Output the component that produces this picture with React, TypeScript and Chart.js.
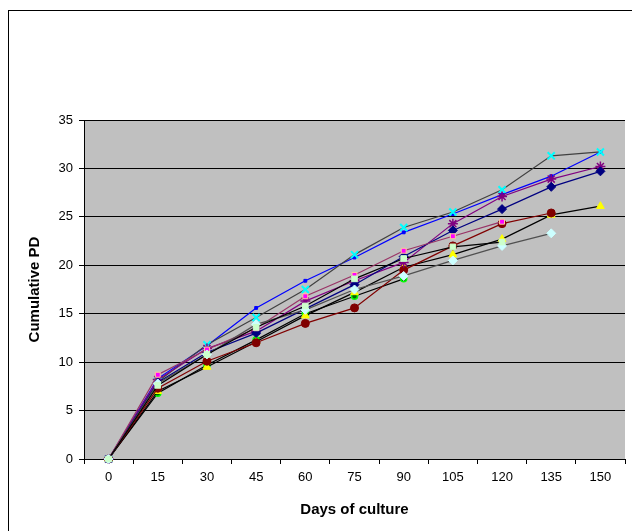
import React, { useEffect, useRef } from "react";
import { Chart, registerables } from "chart.js";

Chart.register(...registerables);

const days = ["0", "15", "30", "45", "60", "75", "90", "105", "120", "135", "150"];
const yTicksMax = 35;
const yStep = 5;

const navyDiamond = [0, 7.9, 11.0, 13.0, 15.5, 18.0, 20.9, 23.6, 25.8, 28.1, 29.7];
const magentaSquare = [0, 8.7, 11.3, 13.5, 16.8, 19.0, 21.5, 23.0, 24.5, null, null];
const yellowTriangle = [0, 7.0, 9.5, 12.1, 14.8, 17.2, 19.8, 21.1, 22.7, 25.2, 26.1];
const cyanCross = [0, 8.0, 11.8, 14.6, 17.5, 21.1, 23.9, 25.5, 27.8, 31.3, 31.7];
const purpleStar = [0, 8.2, 11.4, 13.2, 16.3, 18.4, 20.3, 24.3, 27.1, 28.9, 30.2];
const darkRedCircle = [0, 7.3, 10.1, 12.0, 14.0, 15.6, 19.5, 22.0, 24.3, 25.4, null];
const blueDash = [0, 8.3, 11.7, 15.6, 18.4, 20.8, 23.4, 25.3, 27.3, 29.2, 31.7];
const lightGreenSquare = [0, 7.6, 10.8, 13.6, 15.8, 18.6, 20.7, 21.9, 22.4, null, null];
const lightCyanDiamond = [0, 7.8, 10.8, 13.9, 15.4, 17.5, 18.9, 20.5, 22.0, 23.3, null];
const greenCircle = [0, 6.8, 9.7, 12.3, 15.0, 16.8, 18.6, null, null, null, null];

const xTitle = "Days of culture";
const yTitle = "Cumulative PD";

const framePlugin = {
  id: "framePlugin",
  beforeDraw(chart: any) {
    const { ctx, chartArea } = chart;
    ctx.save();
    ctx.fillStyle = "#ffffff";
    ctx.fillRect(0, 0, chart.width, chart.height);
    ctx.strokeStyle = "#000000";
    ctx.lineWidth = 1;
    ctx.strokeRect(8.5, 10.5, 1000, 1000);
    ctx.fillStyle = "#c0c0c0";
    ctx.fillRect(chartArea.left, chartArea.top, chartArea.right - chartArea.left, chartArea.bottom - chartArea.top);
    ctx.strokeStyle = "#808080";
    ctx.beginPath();
    ctx.moveTo(chartArea.left, chartArea.top + 0.5);
    ctx.lineTo(chartArea.right, chartArea.top + 0.5);
    ctx.stroke();
    ctx.restore();
  },
};

function ds(data: (number | null)[], line: string, style: any, fill: string, stroke: string, radius: number, bw: number) {
  return {
    data,
    borderColor: line,
    borderWidth: 1.2,
    pointStyle: style,
    pointBackgroundColor: fill,
    pointBorderColor: stroke,
    pointBorderWidth: bw,
    pointRadius: radius,
    tension: 0,
    fill: false,
    spanGaps: false,
    clip: false as any,
  };
}

export default function App() {
  const ref = useRef<HTMLCanvasElement | null>(null);
  useEffect(() => {
    document.body.style.margin = "0";
    if (!ref.current) return;
    const font = { family: "'Liberation Sans', Arial, sans-serif", size: 13 };
    const titleFont = { family: "'Liberation Sans', Arial, sans-serif", size: 15, weight: "bold" };
    const chart = new Chart(ref.current, {
      type: "line",
      data: {
        labels: days,
        datasets: [
          ds(lightGreenSquare, "#000000", "rect", "#ccffcc", "#ccffcc", 4, 1),
          ds(lightCyanDiamond, "#505050", "rectRot", "#ccffff", "#ccffff", 4.5, 1),
          ds(magentaSquare, "#993366", "rect", "#ff00ff", "#ffcc99", 3.5, 1),
          ds(navyDiamond, "#000080", "rectRot", "#000080", "#000080", 4.5, 1),
          ds(purpleStar, "#800080", "star", "#800080", "#800080", 5, 1.5),
          ds(cyanCross, "#404040", "crossRot", "#00ffff", "#00ffff", 5, 2),
          ds(blueDash, "#0000ff", "rect", "#0000ff", "#0000ff", 2, 1),
          ds(darkRedCircle, "#800000", "circle", "#800000", "#800000", 4, 1),
          ds(yellowTriangle, "#000000", "triangle", "#ffff00", "#ffff00", 4.5, 1),
          ds(greenCircle, "#000000", "circle", "#006600", "#00ff00", 3, 1.5),
        ],
      },
      options: {
        responsive: false,
        animation: false,
        events: [],
        layout: { padding: { top: 120, left: 0, right: 0, bottom: 0 } },
        plugins: { legend: { display: false }, tooltip: { enabled: false } },
        scales: {
          x: {
            type: "category",
            offset: true,
            grid: { drawOnChartArea: false, drawTicks: true, tickLength: 5, color: "#000000", offset: true },
            border: { display: true, color: "#000000", width: 1 },
            ticks: { color: "#000000", font, padding: 6, maxRotation: 0, autoSkip: false },
            title: {
              display: true,
              text: xTitle,
              color: "#000000",
              font: titleFont,
              padding: { top: 0, bottom: 12 },
            },
            afterFit(scale: any) {
              scale.height = 72;
            },
          },
          y: {
            min: 0,
            max: yTicksMax,
            ticks: { stepSize: yStep, color: "#000000", font, padding: 6 },
            grid: { color: "#000000", lineWidth: 1, tickLength: 5, drawTicks: true },
            border: { display: true, color: "#000000", width: 1 },
            title: {
              display: true,
              text: yTitle,
              color: "#000000",
              font: titleFont,
              padding: { top: 26, bottom: 0 },
            },
            afterFit(scale: any) {
              scale.width = 84;
            },
          },
        },
      } as any,
      plugins: [framePlugin],
    });
    return () => chart.destroy();
  }, []);
  return (
    <div style={{ position: "fixed", left: 0, top: 0, width: 632, height: 531, background: "#fff" }}>
      <canvas ref={ref} width={632} height={531} style={{ display: "block" }} />
    </div>
  );
}
